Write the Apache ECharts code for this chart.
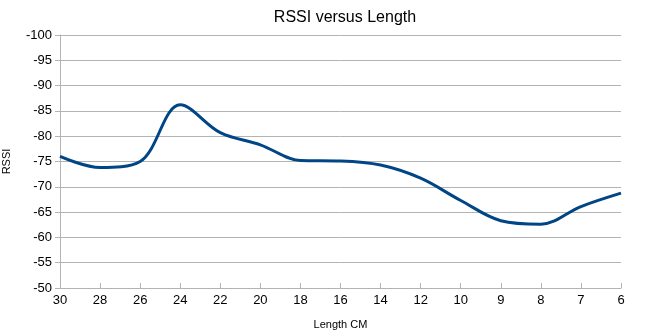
<!DOCTYPE html>
<html>
<head>
<meta charset="utf-8">
<script src="https://cdn.jsdelivr.net/npm/echarts@6/dist/echarts.min.js"></script>
<style>
html,body{margin:0;padding:0;background:#fff;}
#c{width:647px;height:331px;}
</style>
</head>
<body>
<div id="c"></div>
<script>
const categories = ['30','28','26','24','22','20','18','16','14','12','10','9','8','7','6'];
const rssi = [-76, -73.8, -75, -86.2, -80.7, -78.3, -75.2, -75.1, -74.3, -71.7, -67.3, -63.3, -62.6, -66.1, -68.75];
const yTicks = { min: -100, max: -50, interval: 5 };

const chart = echarts.init(document.getElementById('c'), null, {renderer: 'canvas'});
chart.setOption({
  animation: false,
  backgroundColor: '#ffffff',
  title: {
    text: 'RSSI versus Length',
    left: 340,
    top: 5,
    textAlign: 'center',
    textStyle: { fontFamily: 'Liberation Sans', fontSize: 16, fontWeight: 'normal', color: '#000' }
  },
  grid: { left: 60, right: 26, top: 35, bottom: 43, containLabel: false, outerBoundsMode: 'none' },
  xAxis: {
    type: 'category',
    data: categories,
    boundaryGap: false,
    name: 'Length CM',
    nameLocation: 'middle',
    nameGap: 31,
    nameTextStyle: { fontFamily: 'Liberation Sans', fontSize: 11, color: '#000' },
    axisLine: { show: true, lineStyle: { color: '#b3b3b3', width: 1 } },
    axisTick: { show: true, inside: true, length: 5, alignWithLabel: true, lineStyle: { color: '#b3b3b3' } },
    axisLabel: { fontFamily: 'Liberation Sans', fontSize: 13, color: '#000', margin: 6, interval: 0 },
    splitLine: { show: false }
  },
  yAxis: {
    type: 'value',
    inverse: true,
    min: yTicks.min,
    max: yTicks.max,
    interval: yTicks.interval,
    name: 'RSSI',
    nameLocation: 'middle',
    nameGap: 48,
    nameRotate: 90,
    nameTextStyle: { fontFamily: 'Liberation Sans', fontSize: 11, color: '#000' },
    axisLine: { show: true, lineStyle: { color: '#b3b3b3', width: 1 } },
    axisTick: { show: true, inside: false, length: 5, lineStyle: { color: '#b3b3b3' } },
    axisLabel: { fontFamily: 'Liberation Sans', fontSize: 13, color: '#000', margin: 8 },
    splitLine: { show: true, lineStyle: { color: '#b3b3b3', width: 1 } }
  },
  series: [{
    type: 'line',
    data: rssi,
    smooth: 0.35,
    showSymbol: false,
    symbol: 'none',
    lineStyle: { color: '#004586', width: 3 },
    itemStyle: { color: '#004586' }
  }]
});
</script>
</body>
</html>
